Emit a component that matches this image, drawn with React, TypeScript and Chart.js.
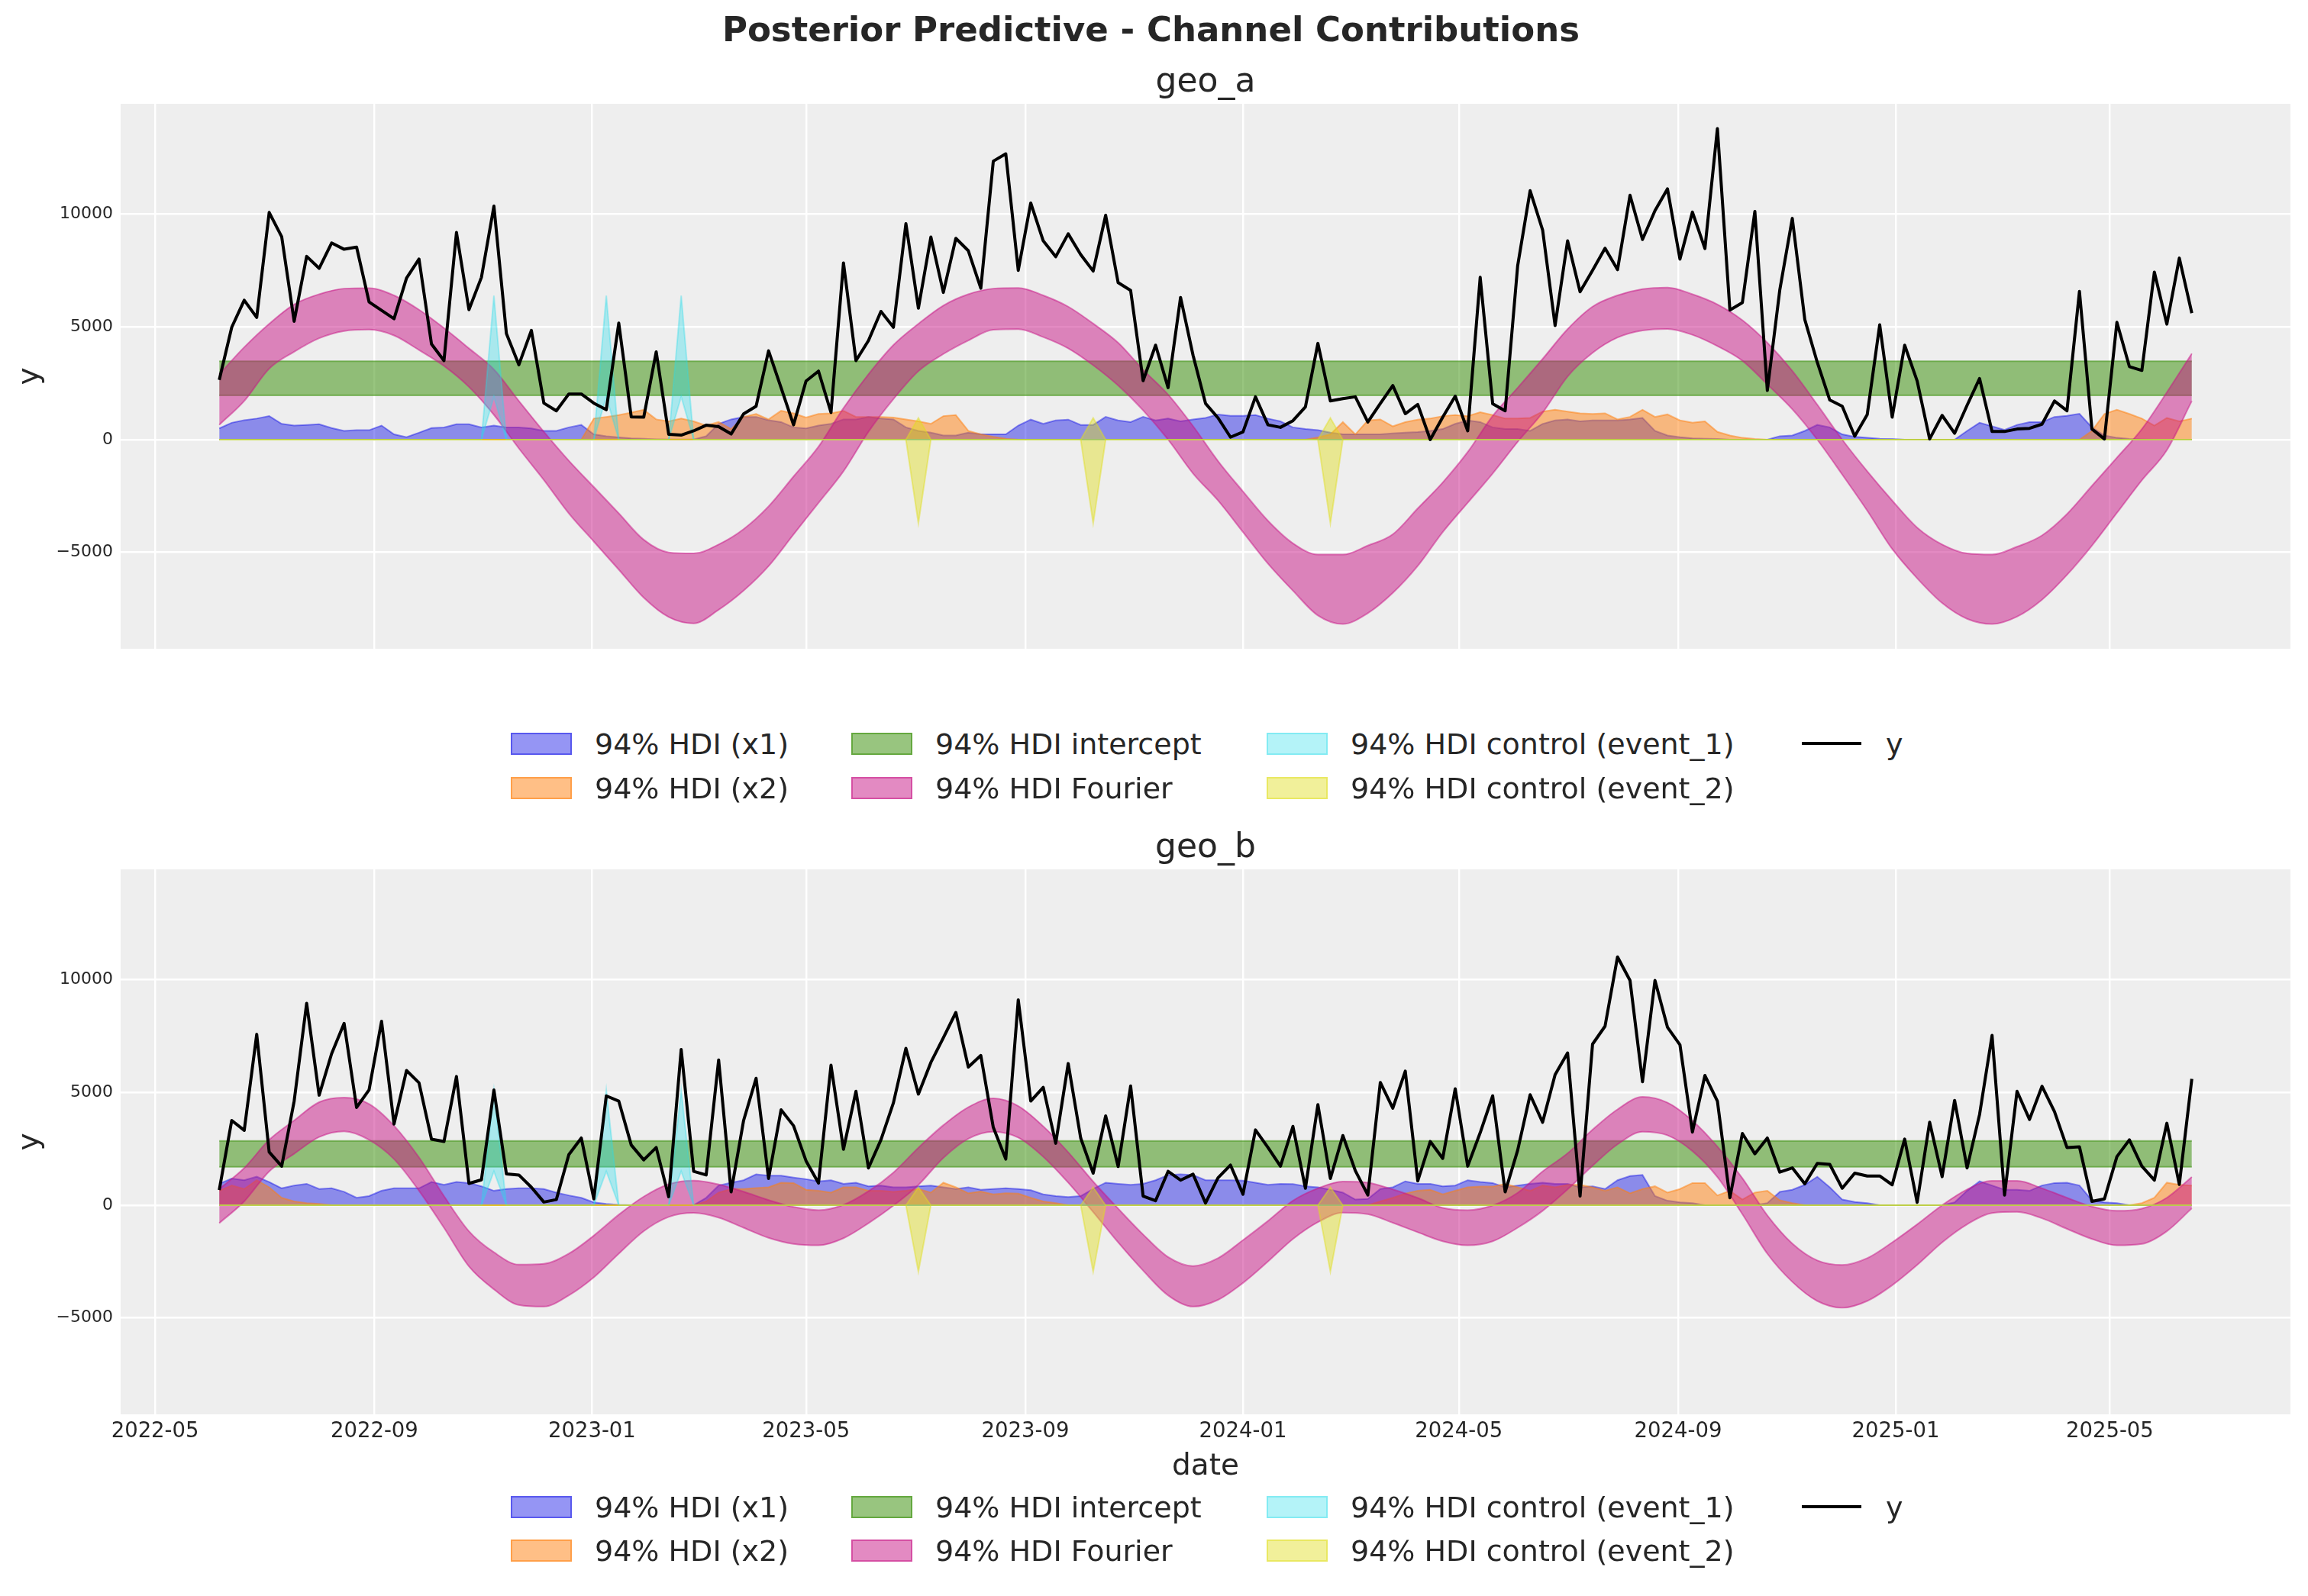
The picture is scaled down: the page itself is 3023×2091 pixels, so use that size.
import { useEffect, useRef } from "react";
import { Chart, registerables } from "chart.js";

Chart.register(...registerables);

const FONT = "'DejaVu Sans', sans-serif";
const INK = "#262626";
Chart.defaults.font.family = FONT;
Chart.defaults.color = INK;

// ---- data -----------------------------------------------------------------

const DAY = 86400000;
const firstWeek = Date.UTC(2022, 5, 6);
const weekCount = 159;
const weeks = Array.from({ length: weekCount }, (_, i) => firstWeek + i * 7 * DAY);
// the Fourier band is read every second week
const fourierWeeks = weeks.filter((_, i) => i % 2 === 0);

const xTickLabels = [
  "2022-05", "2022-09", "2023-01", "2023-05", "2023-09",
  "2024-01", "2024-05", "2024-09", "2025-01", "2025-05",
];
const yTickValues = [-5000, 0, 5000, 10000];

// geo_a
const yGeoA = [
  2650, 4985, 6185, 5420, 10080, 9005, 5250, 8130, 7600, 8725,
  8445, 8540, 6110, 5735, 5360, 7165, 8010, 4240, 3505, 9190,
  5765, 7200, 10360, 4705, 3320, 4845, 1620, 1280, 2025, 2025,
  1620, 1325, 5170, 1010, 995, 3895, 235, 200, 390, 640,
  575, 250, 1140, 1480, 3940, 2305, 655, 2600, 3040, 1200,
  7840, 3505, 4395, 5690, 4985, 9580, 5830, 8990, 6530, 8930,
  8380, 6715, 12355, 12680, 7510, 10500, 8820, 8115, 9130, 8210,
  7480, 9955, 6965, 6620, 2615, 4190, 2305, 6310, 3740, 1605,
  965, 110, 340, 1900, 655, 545, 840, 1450, 4270, 1715,
  1820, 1900, 780, 1605, 2400, 1150, 1560, 0, 1000, 1930,
  390, 7200, 1590, 1280, 7710, 11045, 9300, 5065, 8820, 6560,
  7510, 8490, 7540, 10845, 8880, 10160, 11125, 8010, 10095, 8475,
  13800, 5750, 6075, 10125, 2180, 6650, 9815, 5330, 3430, 1760,
  1480, 155, 1105, 5095, 995, 4190, 2600, 30, 1075, 280,
  1525, 2710, 360, 360, 470, 500, 685, 1715, 1280, 6575,
  470, 30, 5205, 3240, 3070, 7430, 5125, 8055, 5610,
];
const x1GeoA = [
  500, 750, 860, 935, 1045, 700, 625, 655, 685, 515,
  390, 420, 420, 625, 235, 110, 310, 515, 545, 685,
  685, 545, 625, 545, 545, 500, 390, 390, 545, 655,
  235, 150, 100, 60, 40, 20, 10, 10, 10, 150,
  700, 900, 1010, 1010, 860, 780, 545, 500, 625, 700,
  900, 900, 1010, 935, 900, 545, 390, 310, 185, 185,
  310, 235, 235, 235, 625, 890, 700, 855, 890, 655,
  655, 1010, 855, 780, 1010, 855, 935, 810, 900, 965,
  1120, 1060, 1060, 1090, 935, 810, 545, 470, 420, 310,
  235, 235, 235, 235, 280, 310, 340, 390, 470, 700,
  855, 780, 545, 470, 470, 390, 700, 855, 900, 810,
  855, 855, 855, 900, 965, 390, 185, 110, 60, 45,
  30, 0, 0, 0, 0, 155, 185, 390, 655, 545,
  235, 125, 80, 45, 30, 0, 0, 0, 0, 0,
  390, 750, 590, 435, 655, 780, 780, 1010, 1060, 1150,
  545, 185, 80, 30, 10, 0, 0, 0, 0,
];
const x2GeoA = [
  0, 0, 0, 0, 0, 0, 0, 0, 0, 0,
  0, 0, 0, 0, 0, 0, 0, 0, 0, 0,
  0, 0, 0, 0, 0, 0, 0, 0, 0, 0,
  935, 1010, 1090, 1200, 1325, 900, 810, 935, 810, 625,
  780, 470, 1010, 1140, 900, 1280, 1170, 980, 1140, 1170,
  1280, 1010, 1010, 1010, 980, 900, 810, 700, 1045, 1090,
  390, 235, 125, 45, 0, 0, 0, 0, 0, 0,
  0, 0, 0, 0, 0, 0, 0, 0, 0, 0,
  0, 0, 0, 0, 0, 0, 0, 0, 100, 235,
  780, 235, 855, 900, 590, 780, 890, 935, 1045, 1090,
  1045, 1215, 1090, 935, 935, 965, 1245, 1325, 1245, 1170,
  1140, 1170, 900, 1010, 1325, 1010, 1120, 855, 750, 810,
  345, 185, 80, 30, 0, 0, 0, 0, 0, 0,
  0, 0, 0, 0, 0, 0, 0, 0, 0, 0,
  0, 0, 0, 0, 0, 0, 0, 0, 0, 0,
  390, 1140, 1325, 1140, 935, 625, 965, 810, 935,
];
const fourierHighA = [
  2900, 4100, 5140, 6000, 6450, 6700, 6720, 6400, 5765, 4950, 4050, 3115, 1715,
  350, -935, -2100, -3270, -4440, -5000, -5050, -4650, -3970, -2960, -1635, -310, 1400,
  2900, 4200, 5140, 5950, 6450, 6700, 6730, 6400, 5900, 5150, 4300, 3100, 2000,
  600, -950, -2300, -3600, -4600, -5100, -5100, -4700, -4200, -3050, -1900, -550, 1050,
  2300, 3580, 4900, 5900, 6400, 6680, 6750, 6450, 6000, 5300, 4300, 3050, 1550,
  0, -1400, -2700, -3900, -4650, -5050, -5100, -4750, -4250, -3300, -2050, -800, 470,
  2100, 3815,
];
const fourierLowA = [
  655, 1715, 3150, 3900, 4500, 4820, 4880, 4620, 3975, 3270, 2340, 1100, -390,
  -1790, -3270, -4520, -5765, -7010, -7870, -8150, -7550, -6700, -5610, -4205, -2805, -1400,
  350, 1800, 3040, 3800, 4400, 4875, 4900, 4550, 4050, 3300, 2400, 1300, 0,
  -1500, -2700, -4100, -5500, -6700, -7800, -8180, -7700, -6800, -5600, -4100, -2800, -1500,
  -100, 1200, 2800, 3850, 4530, 4840, 4910, 4650, 4150, 3500, 2450, 1350, 0,
  -1550, -3150, -4850, -6150, -7250, -7950, -8180, -7850, -7100, -6000, -4700, -3250, -1800,
  -467, 1714,
];
const interceptA = [1960, 3480];
const eventOneA = [1900, 6390];
const eventTwoA = [-3710, 965];

// geo_b
const yGeoB = [
  670, 3760, 3320, 7580, 2355, 1730, 4620, 8955, 4880, 6720,
  8065, 4335, 5115, 8160, 3600, 5975, 5430, 2930, 2825, 5710,
  965, 1125, 5115, 1390, 1340, 795, 140, 250, 2245, 2980,
  280, 4850, 4620, 2670, 2010, 2560, 375, 6910, 1500, 1340,
  6445, 590, 3760, 5630, 1185, 4230, 3525, 1965, 980, 6210,
  2480, 5055, 1650, 2900, 4540, 6960, 4930, 6335, 7425, 8550,
  6130, 6645, 3450, 2045, 9110, 4620, 5225, 2745, 6285, 2980,
  1420, 3960, 1715, 5290, 405, 200, 1500, 1110, 1375, 95,
  1215, 1780, 485, 3340, 2560, 1730, 3495, 750, 4460, 1185,
  3090, 1530, 450, 5445, 4305, 5945, 1075, 2825, 2075, 5165,
  1730, 3215, 4850, 590, 2435, 4900, 3680, 5790, 6755, 405,
  7145, 7940, 11015, 9970, 5475, 9970, 7895, 7115, 3245, 5755,
  4620, 330, 3180, 2280, 2980, 1465, 1655, 950, 1855, 1810,
  750, 1420, 1295, 1295, 905, 2935, 125, 3680, 1265, 4650,
  1655, 4025, 7535, 450, 5055, 3805, 5275, 4150, 2560, 2590,
  170, 280, 2155, 2900, 1730, 1110, 3635, 920, 5600,
];
const x1GeoB = [
  950, 1185, 1110, 1265, 1030, 750, 875, 950, 720, 750,
  595, 330, 405, 640, 750, 750, 750, 1030, 905, 1030,
  985, 840, 640, 720, 750, 750, 720, 560, 435, 330,
  125, 60, 15, 0, 0, 0, 0, 0, 0, 330,
  875, 1000, 1110, 1370, 1310, 1310, 1230, 1155, 1060, 1110,
  950, 1000, 840, 875, 795, 795, 840, 875, 795, 720,
  795, 685, 720, 750, 720, 670, 485, 405, 360, 405,
  720, 1000, 950, 905, 950, 1110, 1340, 1370, 1340, 1110,
  1110, 1110, 1090, 1000, 905, 950, 935, 840, 795, 685,
  560, 250, 280, 720, 795, 1060, 950, 950, 840, 875,
  1110, 1030, 985, 795, 875, 950, 1000, 950, 950, 795,
  840, 720, 1110, 1295, 1340, 405, 200, 125, 95, 0,
  0, 0, 0, 0, 95, 595, 685, 905, 1265, 795,
  250, 140, 95, 0, 0, 0, 0, 0, 0, 125,
  640, 1060, 875, 685, 685, 640, 875, 985, 1000, 875,
  220, 125, 95, 0, 0, 0, 0, 0, 0,
];
const x2GeoB = [
  640, 875, 720, 1110, 795, 330, 170, 95, 60, 0,
  0, 0, 0, 0, 0, 0, 0, 0, 0, 0,
  0, 0, 0, 0, 0, 0, 0, 0, 0, 0,
  0, 0, 0, 0, 0, 0, 0, 0, 0, 170,
  560, 720, 720, 765, 795, 1000, 985, 685, 640, 560,
  795, 795, 640, 640, 595, 640, 720, 560, 1000, 795,
  530, 610, 485, 530, 515, 330, 170, 95, 0, 0,
  0, 0, 0, 0, 0, 0, 0, 0, 0, 0,
  0, 0, 0, 0, 0, 0, 0, 0, 0, 0,
  0, 0, 0, 170, 330, 515, 640, 685, 485, 640,
  795, 825, 825, 950, 795, 640, 875, 795, 905, 905,
  795, 640, 795, 530, 720, 840, 560, 720, 985, 985,
  435, 640, 250, 560, 640, 220, 95, 0, 0, 0,
  0, 0, 0, 0, 0, 0, 0, 0, 0, 0,
  0, 0, 0, 0, 0, 0, 0, 0, 0, 0,
  0, 0, 0, 0, 95, 330, 1000, 905, 875,
];
const fourierHighB = [
  720, 1650, 2900, 3760, 4570, 4775, 4490, 3525, 2120, 405, -1155, -2090, -2635,
  -2600, -2150, -1350, -420, 380, 930, 1090, 920, 600, 230, -80, -220, 15,
  620, 1450, 2550, 3550, 4350, 4740, 4400, 3500, 2350, 1050, -150, -1300, -2300,
  -2700, -2350, -1550, -700, 200, 750, 1050, 1000, 700, 320, -120, -220, -10,
  550, 1500, 2300, 3350, 4250, 4805, 4550, 3750, 2600, 1200, -450, -1700, -2450,
  -2650, -2350, -1650, -850, 0, 700, 1080, 1080, 750, 330, -60, -250, -150,
  330, 1250,
];
const fourierLowB = [
  -795, 170, 1500, 2280, 3025, 3275, 2900, 2045, 640, -1000, -2715, -3730, -4430,
  -4500, -4000, -3200, -2150, -1150, -520, -340, -550, -1000, -1450, -1720, -1780, -1465,
  -800, -20, 900, 2100, 2950, 3260, 3000, 2150, 1000, -300, -1650, -2900, -4000,
  -4500, -4200, -3450, -2500, -1500, -750, -330, -400, -780, -1200, -1600, -1780, -1600,
  -1000, -250, 700, 1750, 2700, 3260, 3100, 2400, 1250, -400, -2150, -3400, -4250,
  -4550, -4250, -3550, -2650, -1650, -850, -350, -300, -580, -1050, -1500, -1780, -1720,
  -1155, -140,
];
const interceptB = [1700, 2855];
const eventOneB = [1500, 5100];
const eventTwoB = [-2950, 795];

// event weeks (index into weeks), shared by both geos
const eventOneWeeks = [22, 31, 37];
const eventTwoWeeks = [56, 70, 89];

// ---- styling ----------------------------------------------------------------

const FIG_W = 3023;
const FIG_H = 2091;
const AREA_LEFT = 158;
const AREA_RIGHT = 3000;

const COLOR_X1 = "rgba(10,10,230,0.43)";
const COLOR_X2 = "rgba(255,127,14,0.5)";
const COLOR_INTERCEPT = "rgba(50,140,0,0.5)";
const COLOR_FOURIER = "rgba(199,21,133,0.5)";
const COLOR_EVENT1 = "rgba(40,220,235,0.35)";
const COLOR_EVENT2 = "rgba(225,222,30,0.45)";

const xTickValues = xTickLabels.map((s) =>
  Date.UTC(Number(s.slice(0, 4)), Number(s.slice(5, 7)) - 1, 1)
);
const span = weeks[weekCount - 1] - weeks[0];
const xMin = weeks[0] - 0.05 * span;
const xMax = weeks[weekCount - 1] + 0.05 * span;

const allValues = [
  ...yGeoA, ...yGeoB, ...fourierHighA, ...fourierLowA, ...fourierHighB, ...fourierLowB,
  ...eventOneA, ...eventTwoA, ...eventOneB, ...eventTwoB,
];
const dataMin = Math.min(...allValues);
const dataMax = Math.max(...allValues);
const yMin = dataMin - 0.05 * (dataMax - dataMin);
const yMax = dataMax + 0.05 * (dataMax - dataMin);

const points = (xs: number[], ys: number[]) => xs.map((x, i) => ({ x, y: ys[i] }));
const spikes = (at: number[], value: number) => weeks.map((_, i) => (at.includes(i) ? value : 0));
const floor = weeks.map(() => 0);

function band(
  label: string,
  xs: number[],
  lower: number[],
  upper: number[],
  color: string,
  order: number,
  smooth = false
) {
  const common = {
    borderColor: color,
    borderWidth: 2,
    pointRadius: 0,
    order,
    cubicInterpolationMode: smooth ? "monotone" : "default",
  };
  return [
    { ...common, label: `${label} lower`, data: points(xs, lower), fill: false },
    { ...common, label, data: points(xs, upper), fill: "-1", backgroundColor: color },
  ];
}

interface GeoSeries {
  y: number[];
  x1: number[];
  x2: number[];
  fourierLow: number[];
  fourierHigh: number[];
  intercept: number[];
  eventOne: number[];
  eventTwo: number[];
}

const geoA: GeoSeries = {
  y: yGeoA, x1: x1GeoA, x2: x2GeoA, fourierLow: fourierLowA, fourierHigh: fourierHighA,
  intercept: interceptA, eventOne: eventOneA, eventTwo: eventTwoA,
};
const geoB: GeoSeries = {
  y: yGeoB, x1: x1GeoB, x2: x2GeoB, fourierLow: fourierLowB, fourierHigh: fourierHighB,
  intercept: interceptB, eventOne: eventOneB, eventTwo: eventTwoB,
};

function geoDatasets(g: GeoSeries) {
  const ends = [weeks[0], weeks[weekCount - 1]];
  return [
    {
      label: "y",
      data: points(weeks, g.y),
      borderColor: "#000000",
      borderWidth: 4,
      borderJoinStyle: "round",
      pointRadius: 0,
      fill: false,
      order: 0,
    },
    ...band("94% HDI control (event_2)", weeks,
      spikes(eventTwoWeeks, g.eventTwo[0]), spikes(eventTwoWeeks, g.eventTwo[1]), COLOR_EVENT2, 1),
    ...band("94% HDI control (event_1)", weeks,
      spikes(eventOneWeeks, g.eventOne[0]), spikes(eventOneWeeks, g.eventOne[1]), COLOR_EVENT1, 2),
    ...band("94% HDI Fourier", fourierWeeks, g.fourierLow, g.fourierHigh, COLOR_FOURIER, 3, true),
    ...band("94% HDI intercept", ends,
      [g.intercept[0], g.intercept[0]], [g.intercept[1], g.intercept[1]], COLOR_INTERCEPT, 4),
    ...band("94% HDI (x2)", weeks, floor, g.x2, COLOR_X2, 5),
    ...band("94% HDI (x1)", weeks, floor, g.x1, COLOR_X1, 6),
  ];
}

const panelBackground = {
  id: "panelBackground",
  beforeDraw(chart: any) {
    const { ctx, chartArea: a } = chart;
    ctx.save();
    ctx.fillStyle = "#eeeeee";
    ctx.fillRect(a.left, a.top, a.right - a.left, a.bottom - a.top);
    ctx.restore();
  },
};

interface PanelProps {
  top: number;
  height: number;
  padTop: number;
  padBottom: number;
  showDates: boolean;
  geo: GeoSeries;
}

function GeoPanel({ top, height, padTop, padBottom, showDates, geo }: PanelProps) {
  const canvasRef = useRef<HTMLCanvasElement | null>(null);

  useEffect(() => {
    if (!canvasRef.current) return;
    const chart = new Chart(canvasRef.current, {
      type: "line",
      data: { datasets: geoDatasets(geo) as any },
      plugins: [panelBackground],
      options: {
        animation: false,
        responsive: true,
        maintainAspectRatio: false,
        layout: { padding: { top: padTop, right: FIG_W - AREA_RIGHT, bottom: padBottom, left: 0 } },
        plugins: {
          legend: { display: false },
          tooltip: { enabled: false },
        },
        scales: {
          x: {
            type: "linear",
            min: xMin,
            max: xMax,
            grid: { color: "#ffffff", lineWidth: 2.4, drawTicks: false },
            border: { display: false },
            afterBuildTicks: (scale: any) => {
              scale.ticks = xTickValues.map((value) => ({ value }));
            },
            afterFit: (scale: any) => {
              scale.height = showDates ? 92 : 0;
            },
            ticks: {
              display: showDates,
              autoSkip: false,
              maxRotation: 0,
              minRotation: 0,
              padding: 6,
              font: { size: 27.5 },
              color: INK,
              callback: (_value: any, index: number) => xTickLabels[index],
            },
            title: {
              display: showDates,
              text: "date",
              font: { size: 39 },
              color: INK,
              padding: { top: 0, bottom: 0 },
            },
          },
          y: {
            type: "linear",
            min: yMin,
            max: yMax,
            grid: { color: "#ffffff", lineWidth: 2.4, drawTicks: false },
            border: { display: false },
            afterBuildTicks: (scale: any) => {
              scale.ticks = yTickValues.map((value) => ({ value }));
            },
            afterFit: (scale: any) => {
              scale.width = AREA_LEFT;
            },
            ticks: {
              padding: 10,
              font: { size: 22 },
              color: INK,
              callback: (value: any) => (value < 0 ? `\u2212${-value}` : `${value}`),
            },
            title: {
              display: true,
              text: "y",
              font: { size: 39 },
              color: INK,
              padding: { top: 16, bottom: 0 },
            },
          },
        },
      },
    } as any);

    return () => {
      chart.destroy();
    };
  }, [geo, padTop, padBottom, showDates]);

  return (
    <div style={{ position: "absolute", left: 0, top, width: FIG_W, height }}>
      <canvas ref={canvasRef} />
    </div>
  );
}

// ---- html text ----------------------------------------------------------------

interface TextProps {
  text: string;
  left: number;
  width?: number;
  baseline: number;
  size: number;
  weight?: number;
  align?: "left" | "center";
}

function TextAt({ text, left, width, baseline, size, weight = 400, align = "center" }: TextProps) {
  return (
    <div
      style={{
        position: "absolute",
        left,
        width,
        top: baseline - 0.846 * size,
        fontFamily: FONT,
        fontSize: size,
        lineHeight: `${size}px`,
        fontWeight: weight,
        textAlign: align,
        whiteSpace: "nowrap",
        color: INK,
      }}
    >
      {text}
    </div>
  );
}

const legendColumnX = [669, 1115, 1659, 2360];
const legendEntries = [
  { label: "94% HDI (x1)", color: COLOR_X1, col: 0, row: 0 },
  { label: "94% HDI (x2)", color: COLOR_X2, col: 0, row: 1 },
  { label: "94% HDI intercept", color: COLOR_INTERCEPT, col: 1, row: 0 },
  { label: "94% HDI Fourier", color: COLOR_FOURIER, col: 1, row: 1 },
  { label: "94% HDI control (event_1)", color: COLOR_EVENT1, col: 2, row: 0 },
  { label: "94% HDI control (event_2)", color: COLOR_EVENT2, col: 2, row: 1 },
  { label: "y", color: "", col: 3, row: 0 },
];

function Legend({ rows }: { rows: number[] }) {
  return (
    <>
      {legendEntries.map((e) => {
        const cy = rows[e.row];
        const x = legendColumnX[e.col];
        return (
          <div key={e.label}>
            {e.color ? (
              <div
                style={{
                  position: "absolute",
                  left: x,
                  top: cy - 14.5,
                  width: 80,
                  height: 29,
                  boxSizing: "border-box",
                  background: e.color,
                  border: `2.5px solid ${e.color}`,
                }}
              />
            ) : (
              <div
                style={{ position: "absolute", left: x, top: cy - 2, width: 78, height: 4, background: "#000" }}
              />
            )}
            <TextAt text={e.label} left={x + 110} baseline={cy + 13.9} size={38} align="left" />
          </div>
        );
      })}
    </>
  );
}

export default function App() {
  useEffect(() => {
    document.body.style.margin = "0";
    document.body.style.background = "#ffffff";
  }, []);

  return (
    <div style={{ position: "absolute", left: 0, top: 0, width: FIG_W, height: FIG_H, background: "#fff" }}>
      <GeoPanel top={0} height={900} padTop={136} padBottom={50} showDates={false} geo={geoA} />
      <GeoPanel top={1000} height={1091} padTop={139} padBottom={146} showDates={true} geo={geoB} />
      <TextAt
        text="Posterior Predictive - Channel Contributions"
        left={0}
        width={FIG_W - 8}
        baseline={54}
        size={45}
        weight={700}
      />
      <TextAt text="geo_a" left={AREA_LEFT} width={AREA_RIGHT - AREA_LEFT} baseline={120} size={44} />
      <TextAt text="geo_b" left={AREA_LEFT} width={AREA_RIGHT - AREA_LEFT} baseline={1123} size={44} />
      <Legend rows={[974, 1032]} />
      <Legend rows={[1974, 2031]} />
    </div>
  );
}
